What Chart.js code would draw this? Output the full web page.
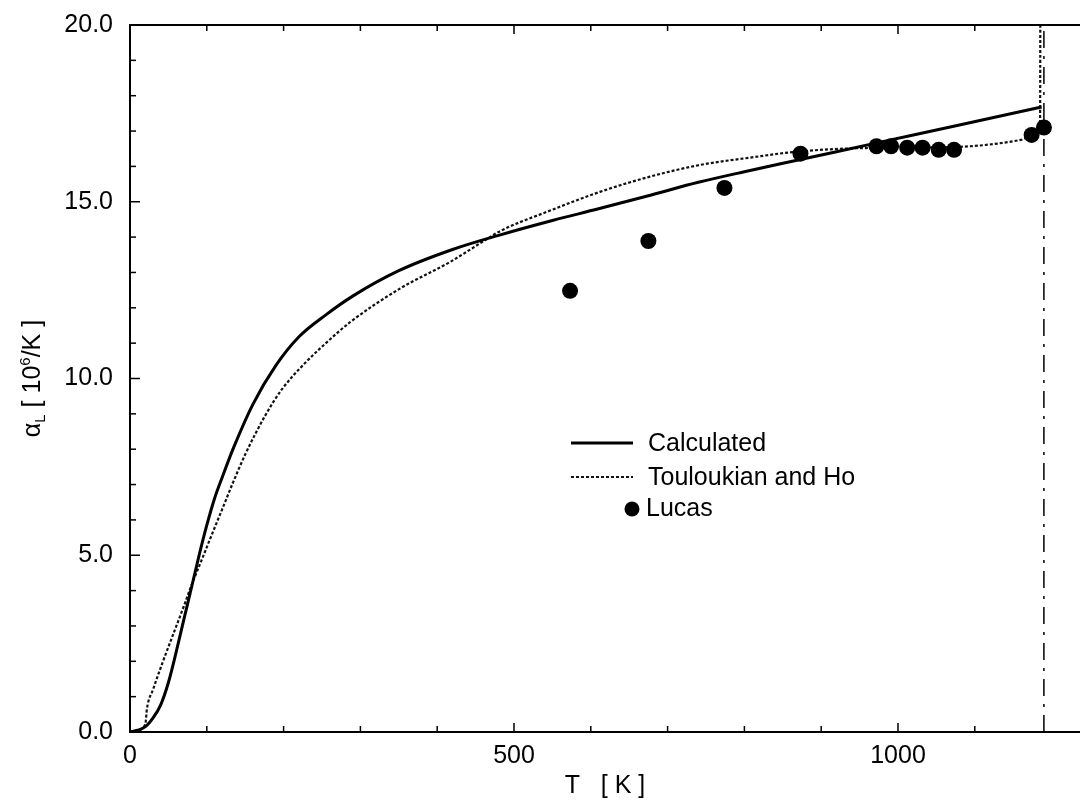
<!DOCTYPE html>
<html><head><meta charset="utf-8">
<script src="https://cdn.jsdelivr.net/npm/chart.js@4.4.1/dist/chart.umd.min.js"></script>
<style>html,body{margin:0;padding:0;background:#fff;}#wrap{width:1080px;height:803px;}</style>
</head><body><div id="wrap"><canvas id="c" width="1080" height="803"></canvas></div>
<script>
// ---- data ----
const calcT = [0, 10, 20, 30, 40, 50, 60, 70, 80, 90, 100, 110, 120, 135, 160, 190, 220, 255, 290, 350, 420, 480, 550, 610, 680, 740, 800, 870, 980, 1080, 1187];
const calcY = [0, 0.05, 0.15, 0.4, 0.77, 1.4, 2.25, 3.17, 4.08, 5.0, 5.85, 6.6, 7.2, 8.05, 9.27, 10.37, 11.18, 11.8, 12.33, 13.05, 13.65, 14.05, 14.47, 14.8, 15.2, 15.55, 15.85, 16.18, 16.7, 17.17, 17.68];
const touT = [0, 10, 20, 22, 30, 43, 56, 70, 80, 93, 105, 120, 134, 150, 176, 198, 224, 254, 287, 352, 417, 460, 482, 547, 612, 677, 742, 808, 870, 960, 1075, 1160, 1178, 1185, 1185.5];
const touY = [0, 0.05, 0.22, 0.65, 1.2, 2.0, 2.75, 3.55, 4.15, 4.85, 5.5, 6.3, 7.05, 7.85, 8.95, 9.7, 10.35, 10.98, 11.6, 12.55, 13.3, 13.88, 14.17, 14.75, 15.28, 15.71, 16.04, 16.25, 16.42, 16.52, 16.55, 16.75, 16.9, 17.3, 22];
const lucasT = [573, 675, 774, 873, 972, 991, 1012, 1032, 1053, 1073, 1174, 1190];
const lucasY = [12.48, 13.89, 15.39, 16.36, 16.57, 16.57, 16.53, 16.53, 16.47, 16.47, 16.89, 17.1];
const transT = [1190, 1190];
const transY = [0, 20];
const xTickValues = [0, 500, 1000];
const xTickLabels = ['0', '500', '1000'];
const yTickValues = [0, 5, 10, 15, 20];
const yTickLabels = ['0.0', '5.0', '10.0', '15.0', '20.0'];
const seriesNames = ['Calculated', 'Touloukian and Ho', 'Lucas'];
const xTitle = 'T   [ K ]';
const yTitleParts = [['α', 0], ['L', 1], [' [ 10', 0], ['6', 2], ['/K ]', 0]];

const pts = (xs, ys) => xs.map((v, i) => ({x: v, y: ys[i]}));
const FONT = "'Liberation Sans', Arial, Helvetica, sans-serif";
Chart.defaults.font.family = FONT;
Chart.defaults.font.size = 25;
Chart.defaults.color = '#000';

const decor = {
  id: 'decor',
  afterDatasetsDraw(chart) {
    const {ctx, chartArea: a, scales: {x, y}} = chart;
    ctx.save();
    ctx.strokeStyle = '#000';
    ctx.lineWidth = 2;
    ctx.beginPath(); ctx.moveTo(a.left, a.top); ctx.lineTo(a.right, a.top); ctx.stroke();
    ctx.lineWidth = 1.5;
    x.ticks.forEach(t => {
      if (t.value % 100 !== 0) return;
      const px = x.getPixelForValue(t.value);
      const L = t.value % 500 === 0 ? 9 : 6;
      ctx.beginPath();
      ctx.moveTo(px, a.bottom); ctx.lineTo(px, a.bottom - L);
      ctx.moveTo(px, a.top); ctx.lineTo(px, a.top + L);
      ctx.stroke();
    });
    y.ticks.forEach(t => {
      const py = y.getPixelForValue(t.value);
      const L = t.value % 5 === 0 ? 10 : 6;
      ctx.beginPath(); ctx.moveTo(a.left, py); ctx.lineTo(a.left + L, py); ctx.stroke();
    });
    // legend
    const ds = chart.data.datasets;
    ctx.font = '25px ' + FONT;
    ctx.fillStyle = '#000';
    ctx.textBaseline = 'middle';
    ctx.textAlign = 'left';
    const rows = [[0, 443], [1, 477], [2, 509]];
    rows.forEach(([i, yy]) => {
      const d = ds[i];
      if (i < 2) {
        ctx.save();
        ctx.lineWidth = d.borderWidth;
        ctx.setLineDash(d.borderDash || []);
        ctx.strokeStyle = d.borderColor;
        ctx.beginPath(); ctx.moveTo(571, yy); ctx.lineTo(633, yy); ctx.stroke();
        ctx.restore();
        ctx.fillText(d.label, 648, yy + 1);
      } else {
        ctx.beginPath(); ctx.arc(632, yy, 7.5, 0, Math.PI * 2); ctx.fillStyle = d.backgroundColor; ctx.fill();
        ctx.fillStyle = '#000';
        ctx.fillText(d.label, 646, yy);
      }
    });
    // y axis title with sub/superscript
    ctx.save();
    ctx.translate(31, (a.top + a.bottom) / 2);
    ctx.rotate(-Math.PI / 2);
    ctx.textBaseline = 'alphabetic';
    const fontFor = k => (k === 0 ? '25px ' : '15px ') + FONT;
    let total = 0;
    yTitleParts.forEach(([s, k]) => { ctx.font = fontFor(k); total += ctx.measureText(s).width; });
    let cx = -total / 2;
    yTitleParts.forEach(([s, k]) => {
      ctx.font = fontFor(k);
      const dy = k === 1 ? 5 : (k === 2 ? -10 : 0);
      ctx.fillText(s, cx, 9 + dy);
      cx += ctx.measureText(s).width;
    });
    ctx.restore();
    ctx.restore();
  }
};

new Chart(document.getElementById('c'), {
  type: 'scatter',
  data: {
    datasets: [
      {label: seriesNames[0], data: pts(calcT, calcY), showLine: true, borderColor: '#000', borderWidth: 3, pointRadius: 0, cubicInterpolationMode: 'monotone', order: 2},
      {label: seriesNames[1], data: pts(touT, touY), showLine: true, borderColor: '#111', borderWidth: 2.2, borderDash: [3, 2], pointRadius: 0, cubicInterpolationMode: 'monotone', order: 3},
      {label: seriesNames[2], data: pts(lucasT, lucasY), showLine: false, backgroundColor: '#000', borderWidth: 0, pointRadius: 8, order: 0},
      {label: 'transition', data: pts(transT, transY), showLine: true, borderColor: '#000', borderWidth: 1.5, borderDash: [17, 8, 3, 8], pointRadius: 0, order: 1}
    ]
  },
  options: {
    responsive: false,
    animation: false,
    devicePixelRatio: 1,
    layout: {autoPadding: false, padding: {top: 25, right: 0, left: 0, bottom: 0}},
    plugins: {legend: {display: false}, tooltip: {enabled: false}},
    scales: {
      x: {
        type: 'linear', min: 0, max: 1237,
        grid: {display: false, drawTicks: false},
        border: {display: true, width: 2, color: '#000'},
        ticks: {stepSize: 100, autoSkip: false, maxRotation: 0, padding: 9,
          callback: v => { const i = xTickValues.indexOf(v); return i >= 0 ? xTickLabels[i] : ''; }},
        title: {display: true, text: xTitle, padding: {top: 0, bottom: 2}},
        afterFit: s => { s.height = 71; s.paddingLeft = 0; s.paddingRight = 0; }
      },
      y: {
        type: 'linear', min: 0, max: 20,
        grid: {display: false, drawTicks: false},
        border: {display: true, width: 2, color: '#000'},
        ticks: {stepSize: 1, autoSkip: false, padding: 17,
          callback: v => { const i = yTickValues.indexOf(v); return i >= 0 ? yTickLabels[i] : ''; }},
        afterFit: s => { s.width = 130; s.paddingTop = 0; s.paddingBottom = 0; }
      }
    }
  },
  plugins: [decor]
});
</script>
</body></html>
